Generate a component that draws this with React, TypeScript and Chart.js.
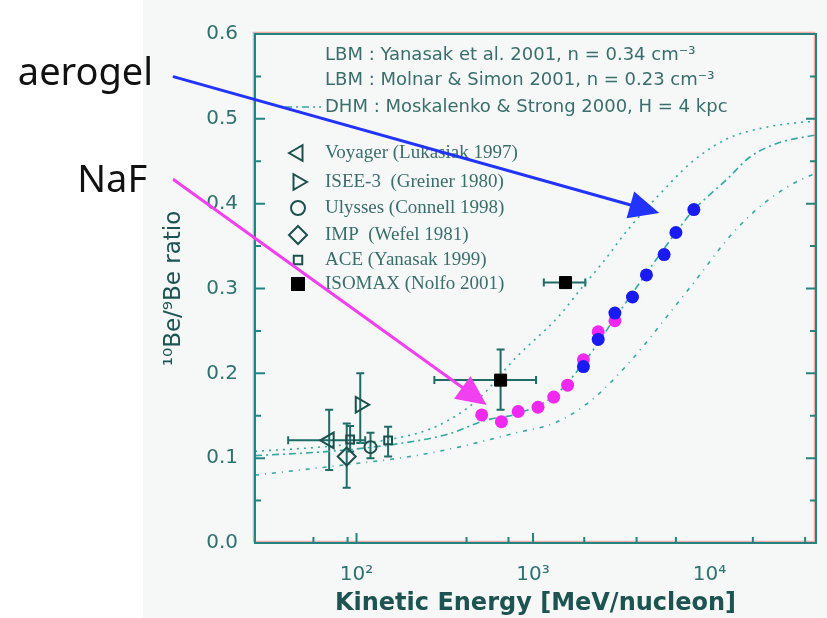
import React, { useEffect, useRef } from 'react';
import { Chart, registerables } from 'chart.js';

Chart.register(...registerables);

// ---------- axes ----------
const xRange = [26.6, 40100];
const yRange = [0, 0.6];
const xLabelValues = [100, 1000, 10000];
const xLabelTexts = ['10²', '10³', '10⁴'];
const xInnerTicks = [57, 89, 100, 420, 726, 1000, 1950, 3860, 6450, 17600, 34800];
const xMajorInnerTicks = [100, 1000];
const yInnerTicks = [0.05, 0.1, 0.15, 0.2, 0.25, 0.3, 0.35, 0.4, 0.45, 0.5, 0.55];

// ---------- model curves ----------
const lbmYanasakE = [26.6, 70, 172, 287, 480, 804, 1396, 1807, 2557, 3437, 5320, 7830, 12440, 20800, 33500, 40100];
const lbmYanasakY = [0.108, 0.114, 0.124, 0.138, 0.168, 0.219, 0.267, 0.296, 0.334, 0.369, 0.413, 0.448, 0.476, 0.490, 0.496, 0.497];
const lbmMolnarE = [26.6, 70, 172, 326, 546, 804, 1345, 1977, 2910, 4390, 6450, 8150, 9250, 12440, 16940, 24900, 40100];
const lbmMolnarY = [0.103, 0.108, 0.117, 0.128, 0.145, 0.152, 0.175, 0.215, 0.265, 0.318, 0.366, 0.393, 0.404, 0.428, 0.455, 0.472, 0.481];
const dhmE = [26.6, 70, 188, 326, 804, 1345, 2163, 3620, 6050, 8150, 13620, 20800, 30600, 40100];
const dhmY = [0.080, 0.090, 0.101, 0.110, 0.130, 0.142, 0.169, 0.216, 0.273, 0.307, 0.366, 0.402, 0.425, 0.436];

// ---------- expected measurements ----------
const nafE = [512, 662, 824, 1067, 1310, 1570, 1930, 2340, 2910];
const nafY = [0.151, 0.143, 0.155, 0.160, 0.172, 0.186, 0.216, 0.249, 0.262];
const aerogelE = [1930, 2340, 2910, 3660, 4390, 5530, 6450, 8150];
const aerogelY = [0.208, 0.240, 0.271, 0.290, 0.316, 0.340, 0.366, 0.393];

// ---------- published data ----------
const voyagerE = [70];
const voyagerY = [0.121];
const voyagerXLo = [41];
const voyagerXHi = [112];
const voyagerYLo = [0.086];
const voyagerYHi = [0.157];

const iseeE = [105];
const iseeY = [0.163];
const iseeYLo = [0.118];
const iseeYHi = [0.200];

const ulyssesE = [120];
const ulyssesY = [0.113];
const ulyssesYLo = [0.100];
const ulyssesYHi = [0.130];

const impE = [88];
const impY = [0.102];
const impYLo = [0.065];
const impYHi = [0.141];

const aceE = [92, 151];
const aceY = [0.122, 0.121];
const aceYLo = [0.108, 0.102];
const aceYHi = [0.138, 0.137];

const isomaxE = [655, 1528];
const isomaxY = [0.192, 0.307];
const isomaxXLo = [276, 1151];
const isomaxXHi = [1040, 1977];
const isomaxYLo = [0.157, 0.302];
const isomaxYHi = [0.228, 0.312];

// ---------- annotations ----------
const aerogelArrowFrom = [9.26, 0.5495];
const aerogelArrowTo = [5190, 0.389];
const nafArrowFrom = [9.26, 0.428];
const nafArrowTo = [546, 0.1627];
const annotationTexts = ['aerogel', 'NaF'];

const modelLegend = [
  'LBM : Yanasak et al. 2001, n = 0.34 cm⁻³',
  'LBM : Molnar & Simon 2001, n = 0.23 cm⁻³',
  'DHM : Moskalenko & Strong 2000, H = 4 kpc',
];
const dataLegend = [
  'Voyager (Lukasiak 1997)',
  'ISEE-3  (Greiner 1980)',
  'Ulysses (Connell 1998)',
  'IMP  (Wefel 1981)',
  'ACE (Yanasak 1999)',
  'ISOMAX (Nolfo 2001)',
];

// ---------- styles ----------
const curveColor = '#38a79f';
const symColor = '#1d4f4c';
const errColor = '#1f6b66';
const frameColor = '#23857f';
const labelColor = '#2f726e';
const titleColor = '#1d5350';
const legendColor = '#3a6e6b';

const pts = (xs: number[], ys: number[]) => xs.map((x, i) => ({ x, y: ys[i] }));

type Sym = { style: string; rot: number; r: number; fill: string };
const legendSyms: Sym[] = [
  { style: 'triangle', rot: -90, r: 9, fill: 'transparent' },
  { style: 'triangle', rot: 90, r: 9, fill: 'transparent' },
  { style: 'circle', rot: 0, r: 7, fill: 'transparent' },
  { style: 'rectRot', rot: 0, r: 9, fill: 'transparent' },
  { style: 'rect', rot: 0, r: 6, fill: 'transparent' },
  { style: 'rect', rot: 0, r: 8.5, fill: '#000' },
];

function drawSym(ctx: CanvasRenderingContext2D, s: Sym, x: number, y: number) {
  const rad = (s.rot * Math.PI) / 180;
  ctx.beginPath();
  if (s.style === 'triangle') {
    let a = rad;
    ctx.moveTo(x + Math.sin(a) * s.r, y - Math.cos(a) * s.r);
    a += (2 * Math.PI) / 3;
    ctx.lineTo(x + Math.sin(a) * s.r, y - Math.cos(a) * s.r);
    a += (2 * Math.PI) / 3;
    ctx.lineTo(x + Math.sin(a) * s.r, y - Math.cos(a) * s.r);
    ctx.closePath();
  } else if (s.style === 'circle') {
    ctx.arc(x, y, s.r, 0, Math.PI * 2);
  } else if (s.style === 'rectRot') {
    ctx.moveTo(x, y - s.r);
    ctx.lineTo(x + s.r, y);
    ctx.lineTo(x, y + s.r);
    ctx.lineTo(x - s.r, y);
    ctx.closePath();
  } else {
    const h = Math.SQRT1_2 * s.r;
    ctx.rect(x - h, y - h, 2 * h, 2 * h);
  }
  if (s.fill !== 'transparent') {
    ctx.fillStyle = s.fill;
    ctx.fill();
  }
  ctx.strokeStyle = s.fill !== 'transparent' ? s.fill : symColor;
  ctx.lineWidth = 2;
  ctx.stroke();
}

const errorSets = [
  { E: voyagerE, Y: voyagerY, xLo: voyagerXLo, xHi: voyagerXHi, yLo: voyagerYLo, yHi: voyagerYHi },
  { E: iseeE, Y: iseeY, xLo: null, xHi: null, yLo: iseeYLo, yHi: iseeYHi },
  { E: ulyssesE, Y: ulyssesY, xLo: null, xHi: null, yLo: ulyssesYLo, yHi: ulyssesYHi },
  { E: impE, Y: impY, xLo: null, xHi: null, yLo: impYLo, yHi: impYHi },
  { E: aceE, Y: aceY, xLo: null, xHi: null, yLo: aceYLo, yHi: aceYHi },
  { E: isomaxE, Y: isomaxY, xLo: isomaxXLo, xHi: isomaxXHi, yLo: isomaxYLo, yHi: isomaxYHi },
];

function drawArrow(ctx: CanvasRenderingContext2D, x0: number, y0: number, x1: number, y1: number, color: string) {
  const dx = x1 - x0, dy = y1 - y0;
  const L = Math.hypot(dx, dy);
  const ux = dx / L, uy = dy / L;
  const headLen = 30, headHalf = 14;
  const bx = x1 - ux * headLen, by = y1 - uy * headLen;
  ctx.strokeStyle = color;
  ctx.lineWidth = 3;
  ctx.lineCap = 'round';
  ctx.beginPath();
  ctx.moveTo(x0, y0);
  ctx.lineTo(bx + ux * 4, by + uy * 4);
  ctx.stroke();
  ctx.fillStyle = color;
  ctx.beginPath();
  ctx.moveTo(x1, y1);
  ctx.lineTo(bx - uy * headHalf, by + ux * headHalf);
  ctx.lineTo(bx + uy * headHalf, by - ux * headHalf);
  ctx.closePath();
  ctx.fill();
}

const decorPlugin = {
  id: 'decor',
  beforeDraw(chart: any) {
    const { ctx, chartArea: a, width, height } = chart;
    ctx.save();
    ctx.fillStyle = '#ffffff';
    ctx.fillRect(0, 0, width, height);
    ctx.fillStyle = '#f5f8f6';
    ctx.fillRect(a.left - 112, 0, width - (a.left - 112), height);
    ctx.restore();
  },
  beforeDatasetsDraw(chart: any) {
    const { ctx } = chart;
    const xs = chart.scales.x, ys = chart.scales.y;
    ctx.save();
    ctx.strokeStyle = errColor;
    ctx.lineWidth = 2;
    const cap = 4;
    errorSets.forEach((s) => {
      s.E.forEach((e, i) => {
        const cx = xs.getPixelForValue(e);
        const cy = ys.getPixelForValue(s.Y[i]);
        const yl = ys.getPixelForValue(s.yLo[i]);
        const yh = ys.getPixelForValue(s.yHi[i]);
        ctx.beginPath();
        ctx.moveTo(cx, yl); ctx.lineTo(cx, yh);
        ctx.moveTo(cx - cap, yl); ctx.lineTo(cx + cap, yl);
        ctx.moveTo(cx - cap, yh); ctx.lineTo(cx + cap, yh);
        if (s.xLo && s.xHi) {
          const xl = xs.getPixelForValue(s.xLo[i]);
          const xh = xs.getPixelForValue(s.xHi[i]);
          ctx.moveTo(xl, cy); ctx.lineTo(xh, cy);
          ctx.moveTo(xl, cy - cap); ctx.lineTo(xl, cy + cap);
          ctx.moveTo(xh, cy - cap); ctx.lineTo(xh, cy + cap);
        }
        ctx.stroke();
      });
    });
    ctx.restore();
  },
  afterDatasetsDraw(chart: any) {
    const { ctx, chartArea: a } = chart;
    const xs = chart.scales.x, ys = chart.scales.y;
    ctx.save();
    // frame
    ctx.strokeStyle = 'rgba(235,110,110,0.55)';
    ctx.lineWidth = 1.5;
    ctx.strokeRect(a.left - 1.5, a.top - 1.5, a.right - a.left, a.bottom - a.top);
    ctx.strokeStyle = frameColor;
    ctx.lineWidth = 2;
    ctx.strokeRect(a.left, a.top, a.right - a.left, a.bottom - a.top);
    // inner ticks
    ctx.beginPath();
    xInnerTicks.forEach((v) => {
      const x = xs.getPixelForValue(v);
      const len = xMajorInnerTicks.includes(v) ? 10 : 6;
      ctx.moveTo(x, a.bottom); ctx.lineTo(x, a.bottom - len);
    });
    yInnerTicks.forEach((v) => {
      const y = ys.getPixelForValue(v);
      const major = Math.abs(v * 10 - Math.round(v * 10)) < 1e-6;
      const len = major ? 10 : 6;
      ctx.moveTo(a.left, y); ctx.lineTo(a.left + len, y);
      ctx.moveTo(a.right, y); ctx.lineTo(a.right - len, y);
    });
    ctx.stroke();

    // model legend
    ctx.fillStyle = legendColor;
    ctx.textAlign = 'left';
    ctx.textBaseline = 'middle';
    ctx.font = '18px "DejaVu Sans"';
    const rowsM = [21, 46, 73];
    modelLegend.forEach((t, i) => ctx.fillText(t, a.left + 70, a.top + rowsM[i]));
    ctx.strokeStyle = curveColor;
    ctx.lineWidth = 1.6;
    ctx.setLineDash([7, 4, 2, 4]);
    ctx.beginPath();
    ctx.moveTo(a.left + 30, a.top + rowsM[2]);
    ctx.lineTo(a.left + 66, a.top + rowsM[2]);
    ctx.stroke();
    ctx.setLineDash([]);

    // data legend
    const rowsD = [119, 148, 174, 201, 226, 250];
    ctx.font = '19px "Liberation Serif"';
    dataLegend.forEach((t, i) => {
      drawSym(ctx, legendSyms[i], a.left + 43, a.top + rowsD[i]);
      ctx.fillStyle = legendColor;
      ctx.fillText(t, a.left + 70, a.top + rowsD[i]);
    });

    // arrows
    const ax0 = xs.getPixelForValue(aerogelArrowFrom[0]), ay0 = ys.getPixelForValue(aerogelArrowFrom[1]);
    const ax1 = xs.getPixelForValue(aerogelArrowTo[0]), ay1 = ys.getPixelForValue(aerogelArrowTo[1]);
    const nx0 = xs.getPixelForValue(nafArrowFrom[0]), ny0 = ys.getPixelForValue(nafArrowFrom[1]);
    const nx1 = xs.getPixelForValue(nafArrowTo[0]), ny1 = ys.getPixelForValue(nafArrowTo[1]);
    drawArrow(ctx, ax0, ay0, ax1, ay1, '#2233ff');
    drawArrow(ctx, nx0, ny0, nx1, ny1, '#f040f0');

    ctx.fillStyle = '#111111';
    ctx.font = '38px "Noto Sans"';
    ctx.textAlign = 'right';
    ctx.textBaseline = 'alphabetic';
    ctx.fillText(annotationTexts[0], ax0 - 21, ay0 + 8);
    ctx.fillText(annotationTexts[1], nx0 - 27, ny0 + 12);
    ctx.restore();
  },
};

export default function App() {
  const ref = useRef<HTMLCanvasElement>(null);
  useEffect(() => {
    const canvas = ref.current;
    if (!canvas) return;
    const chart = new Chart(canvas, {
      type: 'scatter',
      data: {
        datasets: [
          {
            label: 'aerogel', data: pts(aerogelE, aerogelY), order: 0,
            pointRadius: 6.5, pointBackgroundColor: '#1a1af5', pointBorderWidth: 0, borderColor: '#1a1af5',
          },
          {
            label: 'NaF', data: pts(nafE, nafY), order: 1,
            pointRadius: 6.5, pointBackgroundColor: '#f028f0', pointBorderWidth: 0, borderColor: '#f028f0',
          },
          {
            label: 'Voyager', data: pts(voyagerE, voyagerY), order: 2, pointStyle: 'triangle', pointRotation: -90,
            pointRadius: 9, borderColor: symColor, backgroundColor: 'transparent', pointBorderWidth: 2,
          },
          {
            label: 'ISEE-3', data: pts(iseeE, iseeY), order: 2, pointStyle: 'triangle', pointRotation: 90,
            pointRadius: 9, borderColor: symColor, backgroundColor: 'transparent', pointBorderWidth: 2,
          },
          {
            label: 'Ulysses', data: pts(ulyssesE, ulyssesY), order: 2, pointStyle: 'circle',
            pointRadius: 6, borderColor: symColor, backgroundColor: 'transparent', pointBorderWidth: 2,
          },
          {
            label: 'IMP', data: pts(impE, impY), order: 2, pointStyle: 'rectRot',
            pointRadius: 9, borderColor: symColor, backgroundColor: 'transparent', pointBorderWidth: 2,
          },
          {
            label: 'ACE', data: pts(aceE, aceY), order: 2, pointStyle: 'rect',
            pointRadius: 5.5, borderColor: symColor, backgroundColor: 'transparent', pointBorderWidth: 2,
          },
          {
            label: 'ISOMAX', data: pts(isomaxE, isomaxY), order: 2, pointStyle: 'rect',
            pointRadius: 8.5, borderColor: '#000', backgroundColor: '#000', pointBorderWidth: 1,
          },
          {
            label: 'LBM Yanasak', data: pts(lbmYanasakE, lbmYanasakY), order: 5, showLine: true,
            pointRadius: 0, borderColor: curveColor, borderWidth: 1.6, borderDash: [2, 5],
            cubicInterpolationMode: 'monotone',
          },
          {
            label: 'LBM Molnar', data: pts(lbmMolnarE, lbmMolnarY), order: 5, showLine: true,
            pointRadius: 0, borderColor: curveColor, borderWidth: 1.6, borderDash: [7, 4, 2, 4],
            cubicInterpolationMode: 'monotone',
          },
          {
            label: 'DHM', data: pts(dhmE, dhmY), order: 5, showLine: true,
            pointRadius: 0, borderColor: curveColor, borderWidth: 1.6, borderDash: [4, 6, 1, 6],
            cubicInterpolationMode: 'monotone',
          },
        ],
      },
      options: {
        responsive: false,
        animation: false,
        events: [],
        layout: { padding: { left: 155, right: 3, top: 34, bottom: 0 } },
        plugins: { legend: { display: false }, tooltip: { enabled: false } },
        scales: {
          x: {
            type: 'logarithmic',
            min: xRange[0],
            max: xRange[1],
            grid: { display: false, drawTicks: false },
            border: { display: false },
            afterBuildTicks: (s: any) => {
              s.ticks = xLabelValues.map((v) => ({ value: v }));
            },
            afterFit: (s: any) => {
              s.height = 75;
            },
            ticks: {
              autoSkip: false,
              maxRotation: 0,
              padding: 20,
              color: labelColor,
              font: { family: '"DejaVu Sans"', size: 20 },
              callback: (v: any) => {
                const i = xLabelValues.indexOf(Number(v));
                return i >= 0 ? xLabelTexts[i] : '';
              },
            },
            title: {
              display: true,
              text: 'Kinetic Energy [MeV/nucleon]',
              color: titleColor,
              font: { family: '"DejaVu Sans"', size: 24, weight: 'bold' },
              padding: { top: 0, bottom: 0 },
            },
          },
          y: {
            min: yRange[0],
            max: yRange[1],
            grid: { display: false, drawTicks: false },
            border: { display: false },
            afterFit: (s: any) => {
              s.width = 100;
            },
            ticks: {
              stepSize: 0.1,
              padding: 17,
              color: labelColor,
              font: { family: '"DejaVu Sans"', size: 20 },
              callback: (v: any) => Number(v).toFixed(1),
            },
            title: {
              display: true,
              text: '¹⁰Be/⁹Be ratio',
              color: titleColor,
              font: { family: '"DejaVu Sans"', size: 23 },
              padding: { top: 5, bottom: 0 },
            },
          },
        },
      },
      plugins: [decorPlugin],
    } as any);
    return () => chart.destroy();
  }, []);
  return (
    <div style={{ position: 'absolute', left: 0, top: 0, width: 827, height: 618, background: '#fff' }}>
      <canvas ref={ref} width={827} height={618} style={{ display: 'block', width: 827, height: 618 }} />
    </div>
  );
}
